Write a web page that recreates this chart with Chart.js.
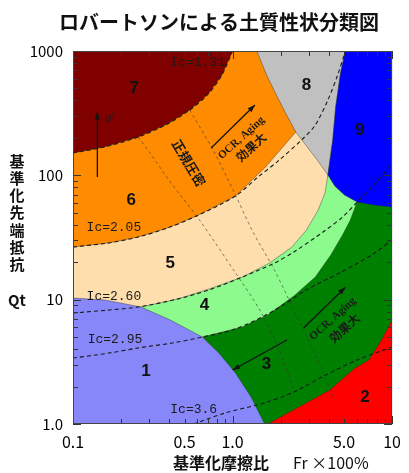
<!DOCTYPE html>
<html>
<head>
<meta charset="utf-8">
<script src="https://cdn.jsdelivr.net/npm/chart.js@4.4.0/dist/chart.umd.min.js"></script>
<style>
    html, body { margin: 0; padding: 0; background: #fff; }
</style>
</head>
<body>
<canvas id="chart_robertson" width="409" height="473"></canvas>
<script>
// axes
const xTickValues = [0.1, 0.5, 1, 5, 10];
const xTickLabels = ['0.1', '0.5', '1.0', '5.0', '10'];
const yTickValues = [1, 10, 100, 1000];
const yTickLabels = ['1.0', '10', '100', '1000'];
const xMinorTicks = [0.1, 0.2, 0.3, 0.4, 0.5, 0.6, 0.7, 0.8, 0.9, 1, 2, 3, 4, 5, 6, 7, 8, 9, 10];
const yMinorTicks = [1, 2, 3, 4, 5, 6, 7, 8, 9, 10, 20, 30, 40, 50, 60, 70, 80, 90, 100,
    200, 300, 400, 500, 600, 700, 800, 900, 1000];

// soil behaviour zones, [Fr %, Qt] outlines
const zone3 = [[0.1, 1], [10, 1], [10, 1000], [0.1, 1000]];
const zone4 = [[0.1, 3.15], [0.256, 3.94], [0.647, 5.01], [1.151, 6.03], [1.658, 7.53], [2.422, 10.7],
    [3.30, 15.2], [4.13, 22.9], [4.887, 33.1], [5.47, 43.7], [6.03, 61.0], [10, 80], [10, 1000], [0.1, 1000]];
const zone5 = [[0.1, 9.0], [0.267, 8.73], [0.449, 10.1], [0.714, 12.2], [1.151, 15.2], [1.705, 19.7],
    [2.355, 26.5], [2.907, 36.3], [3.44, 52.6], [3.796, 72.1], [3.959, 100.6], [4.2, 1000], [0.1, 1000]];
const zone6 = [[0.1, 26.5], [0.168, 28.6], [0.256, 31.9], [0.3905, 37.7], [0.595, 47.1], [1.043, 68.2],
    [1.589, 114.6], [2.49, 223], [3.207, 1000], [0.1, 1000]];
const zone8 = [[1.42, 1000], [1.634, 641], [1.881, 442.8], [2.165, 311], [2.49, 223], [2.907, 172],
    [3.392, 132.8], [3.959, 100.6], [4.246, 192.4], [4.43, 354], [4.753, 665], [5.097, 1000]];
const zone7 = [[0.1, 151.2], [0.1567, 169], [0.2563, 203.4], [0.3905, 258.8], [0.539, 335.3],
    [0.704, 451], [0.857, 641], [1.0, 1000], [0.1, 1000]];
const zone9 = [[5.097, 1000], [4.753, 665], [4.43, 354], [4.246, 192.4], [3.959, 100.6], [4.368, 82.1],
    [5.025, 69.5], [6.033, 61.0], [7.658, 57.7], [10, 55.6], [10, 1000]];
const zone1 = [[0.1, 10.3], [0.1589, 9.94], [0.267, 8.73], [0.4073, 6.86], [0.647, 5.01], [0.8215, 3.72],
    [1.043, 2.57], [1.306, 1.65], [1.589, 1.0], [0.1, 1.0]];
const zone2 = [[1.658, 1.0], [2.907, 1.48], [4.072, 1.88], [5.025, 2.39], [5.866, 2.82], [7.141, 3.27],
    [8.569, 4.74], [10, 6.86], [10, 1.0]];

// Ic contours
const ic131 = [[0.1, 151.2], [0.1567, 169], [0.2563, 203.4], [0.3905, 258.8], [0.539, 335.3],
    [0.704, 451], [0.857, 641], [1.0, 1000]];
const ic205 = [[0.1, 26.5], [0.168, 28.6], [0.256, 31.9], [0.3905, 37.7], [0.595, 47.1], [1.043, 68.2],
    [1.42, 95.2], [1.962, 132.8], [2.787, 199.6], [3.30, 254], [3.959, 403.6], [4.555, 641], [5.097, 1000]];
const ic260 = [[0.1, 7.81], [0.168, 8.26], [0.256, 8.73], [0.449, 10.1], [0.714, 12.0], [1.151, 15.2],
    [1.829, 19.7], [2.422, 24.2], [3.69, 35.0], [4.887, 46.2], [6.033, 61.0], [7.99, 88.4], [10, 125.7]];
const ic295 = [[0.1, 3.39], [0.168, 3.72], [0.256, 4.09], [0.4188, 4.48], [0.647, 5.01], [1.043, 5.81],
    [1.754, 7.96], [2.907, 12.0], [4.685, 16.4], [7.447, 22.9], [10, 30.2]];
const ic360 = [[0.570, 1.0], [0.906, 1.23], [1.589, 1.48], [2.422, 1.81], [3.85, 2.48], [6.033, 3.27], [10, 4.16]];

// normally consolidated band
const ncLeft = [[0.2563, 203.4], [0.2948, 159.8], [0.4073, 88.4], [0.6205, 43.7], [1.043, 16.4],
    [1.481, 8.26], [1.962, 3.94], [2.422, 1.88]];
const ncRight = [[0.539, 335], [0.7551, 159.8], [1.043, 69.5], [1.324, 36.3], [1.829, 17.3],
    [2.422, 8.26], [3.30, 3.59], [4.368, 1.56]];

const zoneColors = {
    z1: 'rgb(135,135,250)', z2: 'rgb(255,0,0)', z3: 'rgb(0,128,0)', z4: 'rgb(140,250,140)',
    z5: 'rgb(255,222,173)', z6: 'rgb(255,140,0)', z7: 'rgb(128,0,0)', z8: 'rgb(192,192,192)', z9: 'rgb(0,0,255)'
};

// labels placed in data units
const zoneNames = ['1', '2', '3', '4', '5', '6', '7', '8', '9'];
const zoneNameAt = [[0.287, 2.67], [6.75, 1.65], [1.634, 3.04], [0.666, 9.06], [0.407, 19.7],
    [0.232, 63.3], [0.242, 504], [2.907, 533], [6.29, 231]];
const icNames = ['Ic=1.31', 'Ic=2.05', 'Ic=2.60', 'Ic=2.95', 'Ic=3.6'];
const icNameAt = [[0.4073, 801], [0.1217, 37.7], [0.1217, 10.5], [0.1235, 4.74], [0.4073, 1.30]];

const arrows = [
    {from: [0.1421, 96.9], to: [0.1421, 323]},
    {from: [0.734, 166], to: [1.381, 368]},
    {from: [2.787, 5.92], to: [5.097, 12.6]},
    {from: [2.195, 4.74], to: [1.0, 2.72]}
];
const notes = [
    {text: "φ'", at: [0.168, 289], angle: 0, font: '12px "Liberation Serif"'},
    {text: '正規圧密', at: [0.5316, 125.7], angle: 59, font: 'bold 13px "Noto Sans CJK JP"'},
    {text: 'OCR, Aging', at: [1.135, 199.7], angle: -42, font: 'bold 11px "Liberation Serif"'},
    {text: '効果大', at: [1.306, 169], angle: -42, font: 'bold 12px "Noto Sans CJK JP"'},
    {text: 'OCR, Aging', at: [4.246, 6.99], angle: -42, font: 'bold 11px "Liberation Serif"'},
    {text: '効果大', at: [5.025, 5.92], angle: -42, font: 'bold 12px "Noto Sans CJK JP"'}
];

function toXY(points) {
    return points.map(p => ({x: p[0], y: p[1]}));
}

function zone(points, color) {
    const closed = points.concat([points[0]]);
    return {
        data: toXY(closed),
        showLine: true,
        pointRadius: 0,
        borderWidth: 0.8,
        borderColor: 'rgba(40,40,40,0.5)',
        backgroundColor: color,
        fill: 'shape',
        tension: 0
    };
}

function contour(points, color, width, dash) {
    return {
        data: toXY(points),
        showLine: true,
        pointRadius: 0,
        borderWidth: width,
        borderColor: color,
        borderDash: dash,
        fill: false,
        tension: 0.3
    };
}

// painter's order, first one ends up at the back
const layers = [
    zone(zone3, zoneColors.z3),
    zone(zone4, zoneColors.z4),
    zone(zone5, zoneColors.z5),
    zone(zone6, zoneColors.z6),
    zone(zone8, zoneColors.z8),
    zone(zone7, zoneColors.z7),
    zone(zone9, zoneColors.z9),
    zone(zone1, zoneColors.z1),
    zone(zone2, zoneColors.z2),
    contour(ncLeft, 'rgba(50,50,50,0.75)', 0.8, [3, 3]),
    contour(ncRight, 'rgba(50,50,50,0.75)', 0.8, [3, 3]),
    contour(ic131, '#1a1a1a', 1.1, [4, 3]),
    contour(ic205, '#1a1a1a', 1.1, [4, 3]),
    contour(ic260, '#1a1a1a', 1.1, [4, 3]),
    contour(ic295, '#1a1a1a', 1.1, [4, 3]),
    contour(ic360, '#1a1a1a', 1.1, [4, 3])
];
layers.forEach((ds, i) => { ds.order = layers.length - i; });

function labelFor(value, values, labels) {
    const i = values.findIndex(v => Math.abs(v - value) < v * 1e-6);
    return i < 0 ? '' : labels[i];
}

function drawArrow(ctx, x1, y1, x2, y2) {
    const a = Math.atan2(y2 - y1, x2 - x1);
    ctx.beginPath();
    ctx.moveTo(x1, y1);
    ctx.lineTo(x2, y2);
    ctx.stroke();
    ctx.beginPath();
    ctx.moveTo(x2, y2);
    ctx.lineTo(x2 - 8 * Math.cos(a - 0.35), y2 - 8 * Math.sin(a - 0.35));
    ctx.lineTo(x2 - 8 * Math.cos(a + 0.35), y2 - 8 * Math.sin(a + 0.35));
    ctx.closePath();
    ctx.fill();
}

const decorations = {
    id: 'decorations',
    afterDatasetsDraw(chart) {
        const {ctx, chartArea: area} = chart;
        const sx = chart.scales.x, sy = chart.scales.y;
        ctx.save();

        // inward tick marks on all four sides
        ctx.strokeStyle = '#333';
        ctx.lineWidth = 1;
        ctx.beginPath();
        xMinorTicks.forEach(v => {
            const px = Math.round(sx.getPixelForValue(v)) + 0.5;
            const len = Number.isInteger(Math.log10(v)) ? 8 : 5;
            ctx.moveTo(px, area.bottom); ctx.lineTo(px, area.bottom - len);
            ctx.moveTo(px, area.top); ctx.lineTo(px, area.top + len);
        });
        yMinorTicks.forEach(v => {
            const py = Math.round(sy.getPixelForValue(v)) + 0.5;
            const len = Number.isInteger(Math.log10(v)) ? 8 : 5;
            ctx.moveTo(area.left, py); ctx.lineTo(area.left + len, py);
            ctx.moveTo(area.right, py); ctx.lineTo(area.right - len, py);
        });
        ctx.stroke();
        ctx.strokeStyle = '#444';
        ctx.strokeRect(area.left + 0.5, area.top + 0.5, area.right - area.left - 1, area.bottom - area.top - 1);

        // arrows
        ctx.strokeStyle = '#141414';
        ctx.fillStyle = '#141414';
        ctx.lineWidth = 1.3;
        arrows.forEach(a => {
            drawArrow(ctx, sx.getPixelForValue(a.from[0]), sy.getPixelForValue(a.from[1]),
                sx.getPixelForValue(a.to[0]), sy.getPixelForValue(a.to[1]));
        });

        // zone numbers
        ctx.fillStyle = '#111';
        ctx.textAlign = 'center';
        ctx.textBaseline = 'middle';
        ctx.font = 'bold 17px "Liberation Sans"';
        zoneNames.forEach((t, i) => {
            ctx.fillText(t, sx.getPixelForValue(zoneNameAt[i][0]), sy.getPixelForValue(zoneNameAt[i][1]));
        });

        // Ic labels
        ctx.textAlign = 'left';
        ctx.font = '13px "Liberation Mono"';
        ctx.fillStyle = '#1a1a1a';
        icNames.forEach((t, i) => {
            ctx.fillText(t, sx.getPixelForValue(icNameAt[i][0]), sy.getPixelForValue(icNameAt[i][1]));
        });

        // rotated notes
        ctx.textAlign = 'center';
        notes.forEach(n => {
            ctx.save();
            ctx.translate(sx.getPixelForValue(n.at[0]), sy.getPixelForValue(n.at[1]));
            ctx.rotate(n.angle * Math.PI / 180);
            ctx.font = n.font;
            ctx.fillText(n.text, 0, 0);
            ctx.restore();
        });
        ctx.restore();
    },
    afterDraw(chart) {
        const ctx = chart.ctx;
        ctx.save();
        ctx.fillStyle = '#111';
        ctx.textBaseline = 'middle';
        ctx.textAlign = 'center';
        ctx.font = 'bold 20px "Noto Sans CJK JP"';
        ctx.fillText('ロバートソンによる土質性状分類図', 219, 22);

        ctx.font = 'bold 15px "Noto Sans CJK JP"';
        Array.from('基準化先端抵抗').forEach((ch, i) => {
            ctx.fillText(ch, 17, 161 + i * 17.2);
        });
        ctx.fillText('Qt', 17, 300);

        ctx.textAlign = 'left';
        ctx.font = 'bold 16px "Noto Sans CJK JP"';
        ctx.fillText('基準化摩擦比', 173, 463);
        ctx.font = '16px "Noto Sans CJK JP"';
        ctx.fillText('Fr ×100%', 293, 463);
        ctx.restore();
    }
};

new Chart(document.getElementById('chart_robertson'), {
    type: 'scatter',
    data: {datasets: layers},
    options: {
        responsive: false,
        animation: false,
        devicePixelRatio: 1,
        layout: {padding: {top: 51, right: 8, left: 0, bottom: 0}},
        plugins: {
            legend: {display: false},
            tooltip: {enabled: false}
        },
        scales: {
            x: {
                type: 'logarithmic',
                min: 0.1,
                max: 10,
                grid: {display: false, drawTicks: false},
                border: {display: false},
                afterBuildTicks: s => { s.ticks = xMinorTicks.map(v => ({value: v})); },
                afterFit: s => { s.height = 49; },
                ticks: {
                    autoSkip: false,
                    maxRotation: 0,
                    padding: 8,
                    color: '#000',
                    font: {family: '"Noto Sans CJK JP", sans-serif', size: 16},
                    callback: v => labelFor(v, xTickValues, xTickLabels)
                }
            },
            y: {
                type: 'logarithmic',
                min: 1,
                max: 1000,
                grid: {display: false, drawTicks: false},
                border: {display: false},
                afterBuildTicks: s => { s.ticks = yMinorTicks.map(v => ({value: v})); },
                afterFit: s => { s.width = 73; },
                ticks: {
                    autoSkip: false,
                    padding: 10,
                    color: '#000',
                    font: {family: '"Noto Sans CJK JP", sans-serif', size: 15},
                    callback: v => labelFor(v, yTickValues, yTickLabels)
                }
            }
        }
    },
    plugins: [decorations]
});
</script>
</body>
</html>
